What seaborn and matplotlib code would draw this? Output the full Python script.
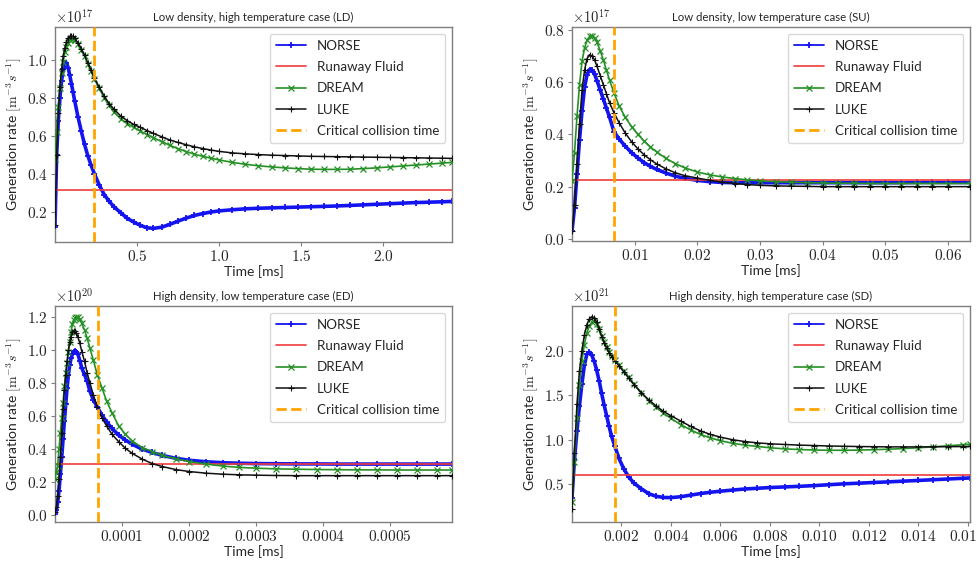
import numpy as np
import matplotlib
matplotlib.use("Agg")
import matplotlib.pyplot as plt
import seaborn as sns

# ---------------- data ----------------
# Panel LD (values x1e17, time in ms)
t_ld = [0.0, 0.01, 0.02, 0.03, 0.04, 0.05, 0.06, 0.07, 0.08, 0.09, 0.10, 0.11, 0.12,
        0.14, 0.16, 0.18, 0.20, 0.22, 0.24, 0.27, 0.30, 0.33, 0.36, 0.40, 0.44, 0.48,
        0.52, 0.56, 0.60, 0.65, 0.70, 0.75, 0.80, 0.85, 0.90, 0.95, 1.00, 1.08, 1.16,
        1.24, 1.32, 1.40, 1.48, 1.56, 1.64, 1.72, 1.80, 1.88, 1.96, 2.04, 2.12, 2.20,
        2.28, 2.36, 2.42]
norse_ld = [0.12, 0.50, 0.68, 0.80, 0.89, 0.95, 0.985, 0.985, 0.96, 0.92, 0.875, 0.83, 0.785,
            0.70, 0.625, 0.555, 0.495, 0.445, 0.40, 0.34, 0.29, 0.255, 0.225, 0.195, 0.165, 0.145,
            0.128, 0.115, 0.112, 0.118, 0.133, 0.15, 0.166, 0.18, 0.19, 0.198, 0.204, 0.21, 0.215,
            0.218, 0.22, 0.222, 0.224, 0.226, 0.228, 0.23, 0.233, 0.236, 0.239, 0.242, 0.245, 0.248,
            0.25, 0.252, 0.254]
dream_ld = [0.48, 0.62, 0.75, 0.85, 0.93, 0.99, 1.04, 1.07, 1.09, 1.105, 1.11, 1.11, 1.105,
            1.085, 1.055, 1.02, 0.98, 0.94, 0.90, 0.85, 0.80, 0.76, 0.725, 0.69, 0.665, 0.645,
            0.625, 0.607, 0.59, 0.57, 0.55, 0.532, 0.517, 0.503, 0.492, 0.482, 0.473, 0.46, 0.45,
            0.442, 0.436, 0.431, 0.427, 0.424, 0.423, 0.423, 0.424, 0.427, 0.431, 0.436, 0.441, 0.446,
            0.451, 0.456, 0.46]
luke_ld = [0.13, 0.50, 0.72, 0.86, 0.95, 1.02, 1.065, 1.095, 1.115, 1.125, 1.128, 1.124, 1.115,
           1.09, 1.06, 1.025, 0.985, 0.945, 0.905, 0.855, 0.81, 0.77, 0.74, 0.705, 0.68, 0.66,
           0.645, 0.628, 0.613, 0.595, 0.578, 0.565, 0.553, 0.542, 0.533, 0.525, 0.518, 0.51, 0.505,
           0.501, 0.498, 0.496, 0.494, 0.492, 0.491, 0.49, 0.489, 0.488, 0.487, 0.486, 0.485, 0.484,
           0.483, 0.482, 0.481]
rf_ld = 0.314
tcrit_ld = 0.24

# Panel SU (values x1e17, time in ms)
t_su = [0.0, 0.0004, 0.0008, 0.0012, 0.0016, 0.002, 0.0024, 0.0028, 0.0032, 0.0036, 0.004,
        0.0045, 0.005, 0.0055, 0.006, 0.0067, 0.0075, 0.0085, 0.0095, 0.0105, 0.0115, 0.0125,
        0.0135, 0.015, 0.0165, 0.018, 0.02, 0.022, 0.024, 0.026, 0.028, 0.030, 0.0325, 0.035,
        0.0375, 0.040, 0.0425, 0.045, 0.0475, 0.050, 0.0525, 0.055, 0.0575, 0.060, 0.0635]
norse_su = [0.03, 0.12, 0.248, 0.38, 0.49, 0.58, 0.629, 0.648, 0.645, 0.63, 0.605,
            0.57, 0.535, 0.50, 0.465, 0.41, 0.383, 0.355, 0.33, 0.31, 0.292, 0.278,
            0.266, 0.252, 0.24, 0.232, 0.224, 0.219, 0.216, 0.215, 0.215, 0.215, 0.215, 0.215,
            0.215, 0.215, 0.215, 0.215, 0.215, 0.215, 0.215, 0.216, 0.216, 0.216, 0.216]
dream_su = [0.22, 0.33, 0.47, 0.59, 0.68, 0.73, 0.76, 0.775, 0.778, 0.77, 0.752,
            0.72, 0.685, 0.645, 0.607, 0.559, 0.51, 0.465, 0.43, 0.40, 0.375, 0.352,
            0.333, 0.308, 0.288, 0.272, 0.256, 0.245, 0.237, 0.231, 0.226, 0.222, 0.219, 0.217,
            0.215, 0.214, 0.213, 0.213, 0.212, 0.212, 0.212, 0.212, 0.212, 0.212, 0.212]
luke_su = [0.03, 0.13, 0.285, 0.44, 0.57, 0.645, 0.69, 0.705, 0.70, 0.685, 0.66,
           0.625, 0.59, 0.555, 0.52, 0.483, 0.445, 0.405, 0.372, 0.345, 0.322, 0.303,
           0.287, 0.268, 0.253, 0.242, 0.233, 0.224, 0.217, 0.212, 0.208, 0.205, 0.203, 0.202,
           0.201, 0.2, 0.2, 0.2, 0.2, 0.2, 0.2, 0.2, 0.2, 0.2, 0.2]
rf_su = 0.226
tcrit_su = 0.0067

# Panel ED (values x1e20, time in units of 1e-5 ms)
t_ed = [0.0, 0.2, 0.4, 0.6, 0.8, 1.0, 1.2, 1.4, 1.6, 1.8, 2.0, 2.2, 2.4, 2.6, 2.8, 3.0,
        3.2, 3.4, 3.7, 4.0, 4.4, 4.8, 5.2, 5.7, 6.3, 7.0, 7.7, 8.5, 9.5, 10.5, 11.5, 13.0,
        14.5, 16.0, 18.0, 20.0, 22.5, 25.0, 27.5, 30.0, 33.0, 36.0, 39.0, 42.0, 45.0, 48.0,
        51.0, 54.0, 57.0, 59.2]
norse_ed = [0.01, 0.03, 0.08, 0.15, 0.25, 0.35, 0.46, 0.57, 0.67, 0.77, 0.85, 0.91, 0.95, 0.975, 0.99, 0.995,
            0.99, 0.975, 0.935, 0.89, 0.85, 0.81, 0.75, 0.70, 0.655, 0.605, 0.565, 0.525, 0.485, 0.455, 0.43, 0.40,
            0.38, 0.362, 0.345, 0.333, 0.324, 0.318, 0.315, 0.313, 0.312, 0.311, 0.311, 0.31, 0.31, 0.31,
            0.31, 0.31, 0.31, 0.31]
dream_ed = [0.22, 0.26, 0.30, 0.40, 0.50, 0.59, 0.68, 0.78, 0.86, 0.92, 0.99, 1.05, 1.11, 1.155, 1.18, 1.195,
            1.2, 1.198, 1.185, 1.16, 1.12, 1.07, 1.01, 0.94, 0.85, 0.77, 0.69, 0.62, 0.54, 0.49, 0.45, 0.41,
            0.385, 0.362, 0.342, 0.325, 0.31, 0.298, 0.29, 0.285, 0.281, 0.279, 0.277, 0.276, 0.275, 0.275,
            0.274, 0.274, 0.274, 0.274]
luke_ed = [0.02, 0.05, 0.12, 0.22, 0.35, 0.50, 0.64, 0.76, 0.85, 0.93, 1.0, 1.045, 1.08, 1.105, 1.115, 1.112,
           1.10, 1.08, 1.04, 0.99, 0.93, 0.86, 0.80, 0.73, 0.655, 0.59, 0.54, 0.49, 0.445, 0.405, 0.375, 0.34,
           0.313, 0.295, 0.277, 0.265, 0.255, 0.249, 0.245, 0.243, 0.241, 0.24, 0.24, 0.24, 0.24, 0.24,
           0.24, 0.24, 0.24, 0.24]
rf_ed = 0.312
tcrit_ed = 6.4

# Panel SD (values x1e21, time in ms)
t_sd = [0.0, 0.0001, 0.0002, 0.0003, 0.0004, 0.0005, 0.0006, 0.0007, 0.0008, 0.0009, 0.001,
        0.0011, 0.0012, 0.0013, 0.0014, 0.0015, 0.0016, 0.00173, 0.0019, 0.0021, 0.0023, 0.0025,
        0.0028, 0.0031, 0.0034, 0.0037, 0.004, 0.0044, 0.0048, 0.0052, 0.0056, 0.006, 0.0065,
        0.007, 0.0075, 0.008, 0.0086, 0.0092, 0.0098, 0.0104, 0.011, 0.0116, 0.0122, 0.0128,
        0.0134, 0.014, 0.0146, 0.0152, 0.0158, 0.0161]
norse_sd = [0.35, 0.78, 1.10, 1.38, 1.625, 1.84, 1.96, 1.985, 1.95, 1.88, 1.78,
            1.66, 1.52, 1.39, 1.27, 1.15, 1.04, 0.93, 0.79, 0.67, 0.58, 0.515,
            0.45, 0.395, 0.365, 0.352, 0.35, 0.36, 0.378, 0.396, 0.41, 0.422, 0.435,
            0.447, 0.455, 0.463, 0.47, 0.477, 0.485, 0.495, 0.505, 0.512, 0.52, 0.527,
            0.535, 0.543, 0.551, 0.559, 0.567, 0.571]
dream_sd = [0.30, 0.75, 1.25, 1.62, 1.88, 2.07, 2.2, 2.28, 2.32, 2.33, 2.3,
            2.24, 2.17, 2.1, 2.04, 1.99, 1.945, 1.9, 1.84, 1.77, 1.70, 1.63,
            1.53, 1.44, 1.365, 1.3, 1.24, 1.17, 1.11, 1.06, 1.02, 0.99, 0.96,
            0.94, 0.925, 0.91, 0.898, 0.89, 0.885, 0.882, 0.882, 0.884, 0.888, 0.894,
            0.901, 0.91, 0.92, 0.932, 0.944, 0.95]
luke_sd = [0.22, 0.85, 1.40, 1.77, 2.0, 2.18, 2.29, 2.36, 2.383, 2.37, 2.32,
           2.24, 2.16, 2.09, 2.03, 1.98, 1.935, 1.89, 1.83, 1.76, 1.69, 1.62,
           1.53, 1.45, 1.38, 1.32, 1.27, 1.21, 1.15, 1.10, 1.06, 1.03, 1.0,
           0.98, 0.965, 0.955, 0.947, 0.94, 0.935, 0.93, 0.927, 0.924, 0.922, 0.92,
           0.92, 0.92, 0.921, 0.922, 0.924, 0.925]
rf_sd = 0.602
tcrit_sd = 0.00174

titles = ["Low density, high temperature case (LD)",
          "Low density, low temperature case (SU)",
          "High density, low temperature case (ED)",
          "High density, high temperature case (SD)"]
exponents = [17, 17, 20, 21]
xticks_ld = [0.5, 1.0, 1.5, 2.0]
xtl_ld = ["0.5", "1.0", "1.5", "2.0"]
yticks_ld = [0.2, 0.4, 0.6, 0.8, 1.0]
xticks_su = [0.01, 0.02, 0.03, 0.04, 0.05, 0.06]
xtl_su = ["0.01", "0.02", "0.03", "0.04", "0.05", "0.06"]
yticks_su = [0.0, 0.2, 0.4, 0.6, 0.8]
xticks_ed = [10, 20, 30, 40, 50]
xtl_ed = ["0.0001", "0.0002", "0.0003", "0.0004", "0.0005"]
yticks_ed = [0.0, 0.2, 0.4, 0.6, 0.8, 1.0, 1.2]
xticks_sd = [0.002, 0.004, 0.006, 0.008, 0.010, 0.012, 0.014, 0.016]
xtl_sd = ["0.002", "0.004", "0.006", "0.008", "0.010", "0.012", "0.014", "0.016"]
yticks_sd = [0.5, 1.0, 1.5, 2.0]

# ---------------- style ----------------
sns.set_style("white")
plt.rcParams["font.family"] = ["Lato", "DejaVu Sans"]
plt.rcParams["mathtext.fontset"] = "cm"
plt.rcParams["axes.edgecolor"] = "#7f7f7f"
plt.rcParams["axes.linewidth"] = 1.0

C_NORSE = "#1414f0"
C_RF = "#f03c3c"
C_DREAM = "#259025"
C_LUKE = "#111111"
C_CRIT = "#ffa500"

fig = plt.figure(figsize=(9.77, 5.61), dpi=100)
W = 977.0
H = 561.0
boxes = [(55, 27, 452, 242), (572, 27, 970, 241), (55, 306, 452, 522), (572, 306, 970, 522)]

panels = [
    (t_ld, norse_ld, dream_ld, luke_ld, rf_ld, tcrit_ld, (0.0, 2.42), (0.04, 1.174),
     xticks_ld, xtl_ld, yticks_ld),
    (t_su, norse_su, dream_su, luke_su, rf_su, tcrit_su, (0.0, 0.0635), (-0.008, 0.811),
     xticks_su, xtl_su, yticks_su),
    (t_ed, norse_ed, dream_ed, luke_ed, rf_ed, tcrit_ed, (0.0, 59.2), (-0.04, 1.265),
     xticks_ed, xtl_ed, yticks_ed),
    (t_sd, norse_sd, dream_sd, luke_sd, rf_sd, tcrit_sd, (0.0, 0.0161), (0.076, 2.503),
     xticks_sd, xtl_sd, yticks_sd),
]

for i, (t, nv, dv, lv, rf, tc, xl, yl, xt, xtl, yt) in enumerate(panels):
    l, tp, r, b = boxes[i]
    ax = fig.add_axes([l / W, 1 - b / H, (r - l) / W, (b - tp) / H])
    sns.lineplot(x=t, y=nv, ax=ax, color=C_NORSE, lw=2.6, marker="+", markersize=5,
                 markeredgecolor=C_NORSE, markeredgewidth=1.3, label="NORSE", zorder=2)
    ax.axhline(rf, color=C_RF, lw=1.2, label="Runaway Fluid", zorder=2)
    sns.lineplot(x=t, y=dv, ax=ax, color=C_DREAM, lw=1.2, marker="x", markersize=4,
                 markeredgecolor=C_DREAM, markeredgewidth=0.9, label="DREAM", zorder=3)
    sns.lineplot(x=t, y=lv, ax=ax, color=C_LUKE, lw=1.1, marker="+", markersize=4.5,
                 markeredgecolor=C_LUKE, markeredgewidth=0.8, label="LUKE", zorder=4)
    ax.axvline(tc, color=C_CRIT, lw=2.0, ls="--", label="Critical collision time", zorder=5)
    ax.set_xlim(*xl)
    ax.set_ylim(*yl)
    ax.set_xticks(xt)
    ax.set_xticklabels(["$" + s + "$" for s in xtl], fontsize=11)
    ax.set_yticks(yt)
    ax.set_yticklabels(["$%.1f$" % v for v in yt], fontsize=11)
    ax.tick_params(axis="both", which="both", length=3, width=0.8, color="#7f7f7f",
                   bottom=True, left=True, pad=2)
    ax.set_title(titles[i], fontsize=8.2, pad=4)
    ax.set_xlabel("Time [ms]", fontsize=10, labelpad=1)
    ax.set_ylabel(r"Generation rate $[\mathrm{m}^{-3}s^{-1}]$", fontsize=10, labelpad=2)
    ax.text(0.0, 1.005, r"$\times10^{%d}$" % exponents[i], transform=ax.transAxes,
            ha="left", va="bottom", fontsize=10.5)
    leg = ax.legend(loc="upper right", fontsize=9.6, frameon=True, fancybox=True,
                    framealpha=0.8, edgecolor="#d0d0d0", handlelength=2.3,
                    borderpad=0.45, labelspacing=0.7)
    leg.legend_handles[0].set_linewidth(1.3)
    for s in ax.spines.values():
        s.set_color("#7f7f7f")

fig.savefig("out.png", dpi=100)
